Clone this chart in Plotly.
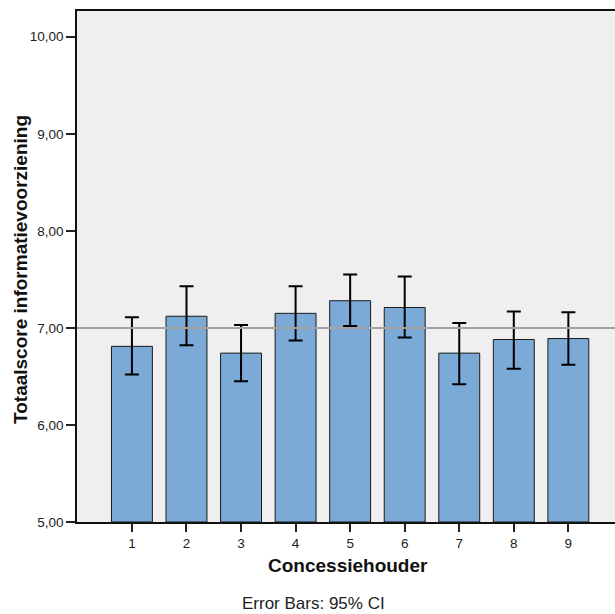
import plotly.graph_objects as go

categories = ["1", "2", "3", "4", "5", "6", "7", "8", "9"]
means = [6.81, 7.12, 6.74, 7.15, 7.28, 7.21, 6.74, 6.88, 6.89]
ci_upper = [7.11, 7.43, 7.03, 7.43, 7.55, 7.53, 7.05, 7.17, 7.16]
ci_lower = [6.52, 6.82, 6.45, 6.87, 7.02, 6.90, 6.42, 6.58, 6.62]
ref_value = 7.0
y_ticks = [5, 6, 7, 8, 9, 10]
y_tick_labels = ["5,00", "6,00", "7,00", "8,00", "9,00", "10,00"]

xpos = list(range(1, len(categories) + 1))
err_plus = [u - m for u, m in zip(ci_upper, means)]
err_minus = [m - l for m, l in zip(means, ci_lower)]

fig = go.Figure()
fig.add_trace(go.Bar(
    x=xpos, y=[m - 5 for m in means], base=5,
    width=0.75,
    marker=dict(color="#7BAAD6", line=dict(color="#1a1a1a", width=1)),
    error_y=dict(type="data", symmetric=False, array=err_plus, arrayminus=err_minus,
                 color="black", thickness=2, width=7),
    hoverinfo="skip",
))

fig.add_shape(type="line", xref="paper", yref="y", x0=0, x1=1, y0=ref_value, y1=ref_value,
              line=dict(color="#A3A3A3", width=2), layer="above")

font = "Liberation Sans, Arial, sans-serif"
PW, PH = 538, 511
fig.update_layout(
    width=615, height=614,
    margin=dict(l=77, r=0, t=11, b=92),
    paper_bgcolor="white", plot_bgcolor="#EFEFEF",
    showlegend=False,
    font=dict(family=font, size=13.5, color="#222"),
    xaxis=dict(range=[-0.007, 9.855], tickmode="array", tickvals=xpos, ticktext=categories,
               ticks="outside", ticklen=8, tickwidth=1.5, tickcolor="#222",
               showline=True, linecolor="#111", linewidth=1.5, showgrid=False, mirror=True,
               zeroline=False, tickfont=dict(size=13.5)),
    yaxis=dict(range=[5, 10.265], tickmode="array", tickvals=y_ticks, ticktext=y_tick_labels,
               ticks="outside", ticklen=9, tickwidth=1.5, tickcolor="#222",
               showline=True, linecolor="#111", linewidth=1.5, showgrid=False,
               zeroline=False, tickfont=dict(size=13.5)),
    annotations=[
        dict(text="<b>Concessiehouder</b>", xref="paper", yref="paper", x=(348 - 77) / PW,
             y=-(565 - 522) / PH, xanchor="center", yanchor="middle", showarrow=False,
             font=dict(size=19, color="#111")),
        dict(text="<b>Totaalscore informatievoorziening</b>", xref="paper", yref="paper",
             x=-(77 - 20) / PW, y=(522 - 270) / PH, xanchor="center", yanchor="middle",
             textangle=-90, showarrow=False, font=dict(size=19, color="#111")),
        dict(text="Error Bars: 95% CI", xref="paper", yref="paper", x=(313 - 77) / PW,
             y=-(604 - 522) / PH, xanchor="center", yanchor="middle", showarrow=False,
             font=dict(size=17, color="#222")),
    ],
)

fig.write_html("out.html", config={"displayModeBar": False},
               post_script="document.body.style.margin='0';document.body.style.overflow='hidden';")
